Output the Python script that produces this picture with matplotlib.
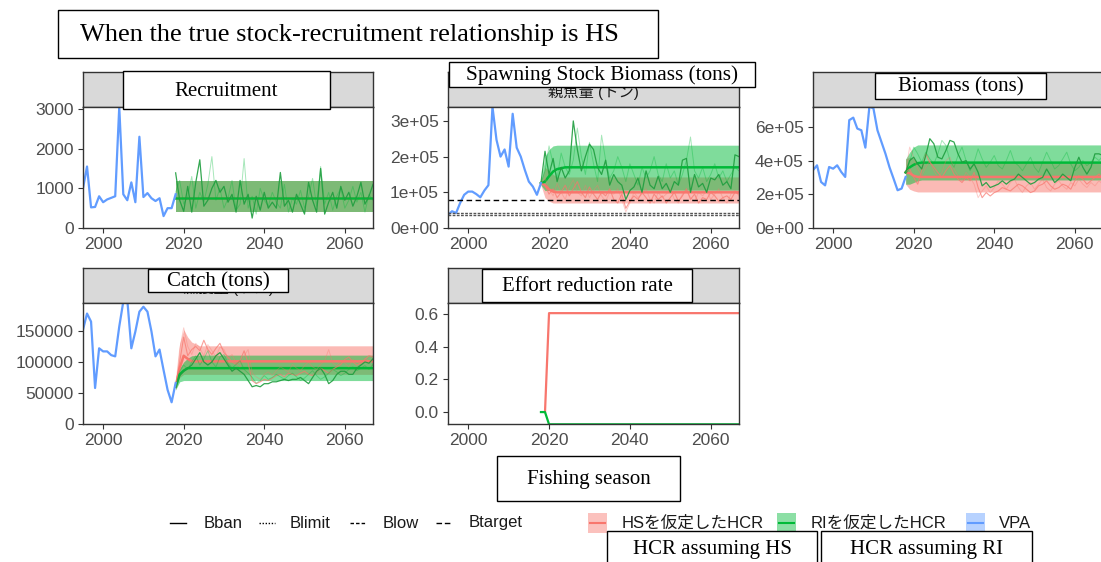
import matplotlib
matplotlib.use("Agg")
import matplotlib.pyplot as plt
import numpy as np
from matplotlib.patches import Rectangle

# ---------------------------------------------------------------------------
# data
# ---------------------------------------------------------------------------
vpa_years = list(range(1995, 2019))
proj_years = list(range(2018, 2068))

# VPA estimates
vpa_rec = [1000, 1550, 520, 530, 800, 650, 720, 760, 800, 3050, 850, 700,
           1150, 650, 2300, 780, 880, 750, 680, 750, 300, 500, 500, 850]
vpa_ssb_1e5 = [0.37, 0.47, 0.42, 0.70, 0.93, 1.02, 1.02, 0.95, 0.86, 1.05,
               1.20, 3.40, 2.47, 2.00, 2.20, 1.72, 3.20, 2.25, 2.00, 1.63,
               1.30, 1.16, 0.93, 1.26]
vpa_bio_1e5 = [3.43, 3.72, 2.73, 2.53, 3.62, 3.52, 3.72, 3.33, 3.03, 6.40,
               6.55, 5.90, 5.80, 4.77, 7.20, 7.10, 5.80, 5.10, 4.40, 3.60,
               2.93, 2.24, 2.34, 3.03]
vpa_catch_k = [152, 178, 165, 58, 122, 117, 117, 111, 109, 157, 197, 200,
               122, 149, 181, 189, 181, 149, 109, 120, 87, 55, 35, 66]

# projection summaries: (years, lower, median, upper)
rec_band_years = [2018, 2067]
rec_lo = [400, 400]
rec_med = [750, 750]
rec_hi = [1180, 1180]

ssb_band_years = [2018, 2019, 2020, 2021, 2022, 2024, 2067]
ssb_ri_lo = [1.20, 1.05, 1.05, 1.06, 1.06, 1.06, 1.06]
ssb_ri_med = [1.26, 1.30, 1.45, 1.58, 1.65, 1.70, 1.70]
ssb_ri_hi = [1.30, 2.00, 2.20, 2.30, 2.32, 2.32, 2.32]
ssb_hs_lo = [1.20, 0.85, 0.75, 0.70, 0.70, 0.70, 0.70]
ssb_hs_med = [1.26, 1.20, 1.08, 1.02, 1.00, 1.00, 1.00]
ssb_hs_hi = [1.30, 1.70, 1.60, 1.50, 1.43, 1.43, 1.43]

bio_band_years = [2018, 2019, 2020, 2021, 2022, 2067]
bio_ri_lo = [2.60, 2.60, 2.70, 2.80, 2.85, 2.85]
bio_ri_med = [3.30, 3.60, 3.75, 3.85, 3.88, 3.88]
bio_ri_hi = [4.10, 4.50, 4.80, 4.93, 4.93, 4.93]
bio_hs_lo = [2.60, 2.30, 2.20, 2.14, 2.14, 2.14]
bio_hs_med = [3.30, 3.25, 3.10, 3.03, 3.03, 3.03]
bio_hs_hi = [4.10, 4.20, 4.10, 3.90, 3.86, 3.86]

catch_band_years = [2018, 2019, 2020, 2021, 2022, 2024, 2067]
catch_ri_lo = [55, 68, 70, 70, 70, 70, 70]
catch_ri_med = [60, 80, 86, 90, 90, 90, 90]
catch_ri_hi = [66, 90, 100, 106, 110, 111, 111]
catch_hs_lo = [55, 75, 80, 80, 80, 80, 80]
catch_hs_med = [60, 90, 110, 105, 101, 101, 101]
catch_hs_hi = [66, 130, 152, 140, 132, 126, 126]

effort_hs_years = [2019, 2020, 2067]
effort_hs = [0.0, 0.605, 0.605]
effort_ri_years = [2018, 2019, 2020, 2067]
effort_ri = [0.0, 0.0, -0.075, -0.075]

# single simulation runs, 2018-2067
rec_run_a = [1390, 700, 420, 1050, 400, 1150, 1720, 550, 700, 1000,
             1200, 900, 1050, 650, 850, 400, 1200, 600, 850, 250,
             800, 450, 900, 500, 650, 500, 1400, 550, 700, 400,
             850, 600, 350, 1150, 700, 400, 1500, 350, 650, 900,
             500, 1050, 700, 900, 550, 800, 1150, 600, 800, 1100]
rec_run_b = [900, 1200, 600, 800, 1300, 500, 900, 650, 1100, 1800,
             700, 1000, 500, 750, 1200, 450, 600, 1750, 500, 800,
             350, 1000, 700, 550, 900, 650, 500, 1100, 400, 750,
             600, 950, 500, 800, 1250, 550, 1550, 600, 900, 450,
             800, 1000, 500, 700, 1050, 650, 900, 400, 850, 700]

ssb_ri_run_a = [1.26, 2.15, 1.50, 1.95, 1.30, 1.70, 1.40, 1.60, 3.00, 2.20,
                1.60, 2.00, 2.35, 2.20, 1.70, 1.50, 1.90, 1.20, 1.50, 1.30,
                1.20, 0.80, 1.05, 1.15, 1.40, 1.00, 1.60, 1.20, 1.10, 1.45,
                1.10, 1.25, 1.00, 1.30, 1.20, 1.90, 1.95, 1.00, 1.50, 1.15,
                1.25, 1.00, 1.40, 1.35, 1.50, 1.20, 1.30, 1.10, 2.05, 2.00]
ssb_ri_run_b = [1.26, 1.60, 2.30, 1.80, 1.40, 2.10, 1.70, 1.50, 1.90, 2.80,
                2.00, 1.50, 2.40, 1.80, 1.30, 2.60, 1.90, 1.40, 1.60, 2.00,
                1.70, 1.30, 1.80, 1.50, 1.20, 1.70, 1.40, 1.60, 2.00, 1.50,
                1.30, 1.80, 1.40, 1.60, 1.20, 1.50, 1.90, 2.55, 1.60, 1.40,
                1.70, 1.30, 1.50, 1.80, 1.40, 1.60, 1.30, 1.50, 1.70, 1.60]
ssb_hs_run_a = [1.26, 1.20, 0.95, 1.10, 0.85, 1.00, 1.20, 0.90, 1.10, 1.30,
                1.00, 0.85, 1.15, 0.95, 0.80, 1.00, 0.90, 1.10, 0.80, 0.70,
                0.95, 0.55, 0.75, 0.90, 0.80, 1.00, 0.85, 0.70, 0.95, 0.80,
                0.90, 0.70, 0.85, 1.00, 0.75, 0.90, 1.10, 0.80, 0.95, 0.70,
                0.85, 0.80, 1.00, 0.90, 0.75, 0.85, 0.90, 0.80, 1.00, 0.95]
ssb_hs_run_b = [1.26, 1.40, 1.10, 0.90, 1.25, 1.00, 0.80, 1.15, 1.35, 1.00,
                0.90, 1.20, 0.85, 1.05, 1.20, 0.90, 0.75, 1.00, 0.95, 1.10,
                0.80, 0.45, 0.70, 1.00, 0.85, 0.95, 1.10, 0.80, 0.70, 1.00,
                0.85, 0.95, 1.10, 0.80, 0.70, 0.95, 1.05, 0.85, 0.75, 1.00,
                0.90, 1.05, 0.80, 0.95, 1.10, 0.85, 0.70, 0.95, 1.05, 0.90]

bio_ri_run_a = [3.3, 4.0, 4.2, 3.8, 3.5, 4.3, 5.3, 5.0, 4.2, 4.1,
                4.6, 5.2, 5.1, 4.4, 3.9, 4.0, 3.5, 3.8, 3.3, 2.5,
                2.7, 2.4, 2.5, 2.6, 2.8, 2.6, 2.8, 2.9, 3.2, 3.0,
                2.8, 2.6, 2.7, 2.9, 3.0, 3.5, 3.1, 2.7, 2.9, 3.2,
                3.0, 2.8, 3.6, 4.2, 3.6, 3.2, 3.6, 4.4, 4.4, 4.3]
bio_ri_run_b = [3.3, 3.9, 4.8, 4.4, 3.9, 4.5, 4.1, 3.8, 4.4, 5.2,
                4.9, 4.0, 3.6, 4.3, 4.8, 4.0, 3.4, 3.9, 4.7, 4.1,
                3.6, 3.9, 4.3, 3.7, 3.5, 4.0, 4.6, 3.9, 3.7, 3.4,
                3.8, 4.2, 3.6, 3.3, 3.9, 4.5, 4.0, 3.5, 3.7, 4.1,
                4.5, 3.8, 3.4, 3.6, 4.0, 3.7, 3.9, 4.2, 4.0, 4.3]
bio_hs_run_a = [3.3, 3.5, 3.0, 2.6, 3.4, 4.4, 3.9, 3.6, 3.3, 3.0,
                3.4, 3.7, 3.2, 2.9, 2.7, 3.0, 2.8, 3.3, 2.4, 1.8,
                2.1, 1.9, 2.1, 2.2, 2.4, 2.3, 2.2, 2.4, 2.6, 2.5,
                2.3, 2.1, 2.2, 2.5, 2.6, 2.8, 2.5, 2.3, 2.4, 2.6,
                2.5, 2.3, 2.8, 3.1, 2.9, 2.6, 2.8, 3.0, 3.2, 3.0]
bio_hs_run_b = [3.3, 4.8, 4.2, 3.5, 3.1, 3.6, 4.0, 3.4, 3.0, 3.3,
                4.0, 4.2, 3.5, 3.1, 2.8, 3.3, 3.0, 2.6, 1.8, 2.2,
                2.5, 2.1, 2.4, 2.8, 2.6, 2.3, 2.7, 2.9, 2.4, 2.1,
                2.5, 2.7, 2.3, 2.6, 2.9, 2.4, 2.2, 2.6, 2.8, 2.5,
                2.3, 2.7, 2.5, 2.9, 2.6, 2.4, 2.7, 2.5, 2.8, 2.6]

catch_ri_run_a = [60, 78, 85, 90, 95, 105, 115, 100, 95, 100,
                  110, 115, 105, 95, 85, 90, 85, 80, 70, 60,
                  62, 60, 65, 65, 68, 68, 70, 72, 70, 72,
                  72, 75, 70, 65, 75, 85, 90, 80, 65, 70,
                  80, 85, 85, 80, 80, 90, 95, 100, 98, 105]
catch_ri_run_b = [60, 85, 95, 88, 100, 110, 95, 105, 118, 100,
                  92, 108, 112, 98, 90, 96, 102, 88, 82, 75,
                  66, 70, 78, 72, 75, 80, 76, 72, 78, 82,
                  76, 70, 74, 80, 86, 78, 72, 76, 82, 88,
                  84, 78, 82, 88, 92, 86, 90, 94, 88, 96]
catch_hs_run_a = [60, 100, 140, 110, 120, 125, 118, 135, 120, 112,
                  122, 130, 115, 108, 100, 96, 102, 118, 98, 70,
                  65, 68, 72, 70, 74, 78, 80, 76, 82, 80,
                  78, 82, 85, 80, 78, 84, 90, 86, 82, 88,
                  92, 96, 104, 108, 100, 95, 98, 104, 110, 108]
catch_hs_run_b = [60, 120, 155, 125, 112, 130, 122, 110, 128, 118,
                  108, 124, 120, 105, 112, 98, 92, 110, 120, 82,
                  76, 72, 80, 84, 78, 86, 92, 88, 84, 96,
                  90, 86, 94, 100, 92, 88, 96, 102, 120, 98,
                  94, 102, 98, 92, 104, 100, 96, 106, 102, 100]

# reference points for spawning stock biomass (1e5 t)
ref_points = {"Bban": 0.36, "Blimit": 0.42, "Btarget": 0.79}

# ---------------------------------------------------------------------------
# style
# ---------------------------------------------------------------------------
W, H = 1101, 562
RED, GREEN, BLUE = "#F8766D", "#00BA38", "#619CFF"
DARK_GREEN = "#1E9E3E"
SANS = ["Liberation Sans", "DejaVu Sans"]
JP = ["Liberation Sans", "Noto Sans CJK JP", "DejaVu Sans"]
SERIF = ["Liberation Serif", "DejaVu Serif"]

COLS = [(83, 373), (448, 739), (813, 1103)]
ROWS = [(72, 107, 228), (268, 303, 424)]

fig = plt.figure(figsize=(W / 100, H / 100), dpi=100)


def px_axes(l, t, r, b):
    return fig.add_axes([l / W, 1 - b / H, (r - l) / W, (b - t) / H])


def panel(col, row, strip, ylim, yticks, ylabels):
    l, r = COLS[col]
    st, sb, pb = ROWS[row]
    sax = px_axes(l, st, r, sb)
    sax.set_facecolor("#D9D9D9")
    sax.set_xticks([])
    sax.set_yticks([])
    for s in sax.spines.values():
        s.set_color("#333333")
        s.set_linewidth(1.0)
    if strip:
        sax.text(0.5, 0.42, strip, ha="center", va="center", fontsize=11,
                 color="#1A1A1A", family=JP, transform=sax.transAxes)

    ax = px_axes(l, sb, r, pb)
    ax.set_xlim(1995, 2067)
    ax.set_ylim(*ylim)
    ax.set_xticks([2000, 2020, 2040, 2060])
    ax.set_yticks(yticks)
    ax.set_yticklabels(ylabels)
    ax.tick_params(length=3.5, width=0.8, color="#333333", labelsize=12.5,
                   labelcolor="#4D4D4D", pad=3)
    for lab in ax.get_xticklabels() + ax.get_yticklabels():
        lab.set_family(SANS)
    for s in ax.spines.values():
        s.set_color("#333333")
        s.set_linewidth(1.0)
    return ax


def bands(ax, yrs, lo_ri, med_ri, hi_ri, lo_hs, med_hs, hi_hs, scale=1.0):
    y = np.asarray(yrs)
    ax.fill_between(y, np.asarray(lo_hs) * scale, np.asarray(hi_hs) * scale,
                    color=RED, alpha=0.5, lw=0)
    ax.fill_between(y, np.asarray(lo_ri) * scale, np.asarray(hi_ri) * scale,
                    color=GREEN, alpha=0.5, lw=0)
    ax.plot(y, np.asarray(med_hs) * scale, color=RED, lw=1.8)
    ax.plot(y, np.asarray(med_ri) * scale, color=GREEN, lw=1.8)


def runs(ax, hs_a, hs_b, ri_a, ri_b, scale=1.0):
    y = np.asarray(proj_years)
    if hs_b is not None:
        ax.plot(y, np.asarray(hs_b) * scale, color=RED, lw=0.7, alpha=0.35)
    if hs_a is not None:
        ax.plot(y, np.asarray(hs_a) * scale, color=RED, lw=0.8, alpha=0.7)
    ax.plot(y, np.asarray(ri_b) * scale, color=GREEN, lw=0.7, alpha=0.35)
    ax.plot(y, np.asarray(ri_a) * scale, color=DARK_GREEN, lw=0.9, alpha=0.9)


# --- recruitment --------------------------------------------------------
ax = panel(0, 0, None, (0, 3050), [0, 1000, 2000, 3000],
           ["0", "1000", "2000", "3000"])
bands(ax, rec_band_years, rec_lo, rec_med, rec_hi, rec_lo, rec_med, rec_hi)
runs(ax, None, None, rec_run_a, rec_run_b)
ax.plot(vpa_years, vpa_rec, color=BLUE, lw=1.6)

# --- spawning stock biomass ---------------------------------------------
ax = panel(1, 0, "親魚量 (トン)", (0, 3.39e5), [0, 1e5, 2e5, 3e5],
           ["0e+00", "1e+05", "2e+05", "3e+05"])
bands(ax, ssb_band_years, ssb_ri_lo, ssb_ri_med, ssb_ri_hi,
      ssb_hs_lo, ssb_hs_med, ssb_hs_hi, scale=1e5)
runs(ax, ssb_hs_run_a, ssb_hs_run_b, ssb_ri_run_a, ssb_ri_run_b, scale=1e5)
ax.plot(vpa_years, np.asarray(vpa_ssb_1e5) * 1e5, color=BLUE, lw=1.6)
ax.axhline(ref_points["Btarget"] * 1e5, color="black", lw=1.0,
           ls=(0, (4, 2.5)))
ax.axhline(ref_points["Blimit"] * 1e5, color="#555555", lw=1.0,
           ls=(0, (2, 1)))
ax.axhline(ref_points["Bban"] * 1e5, color="#555555", lw=1.0,
           ls=(0, (2, 1)))

# --- biomass ------------------------------------------------------------
ax = panel(2, 0, None, (0, 7.18e5), [0, 2e5, 4e5, 6e5],
           ["0e+00", "2e+05", "4e+05", "6e+05"])
bands(ax, bio_band_years, bio_ri_lo, bio_ri_med, bio_ri_hi,
      bio_hs_lo, bio_hs_med, bio_hs_hi, scale=1e5)
runs(ax, bio_hs_run_a, bio_hs_run_b, bio_ri_run_a, bio_ri_run_b, scale=1e5)
ax.plot(vpa_years, np.asarray(vpa_bio_1e5) * 1e5, color=BLUE, lw=1.6)

# --- catch --------------------------------------------------------------
ax = panel(0, 1, "漁獲量 (トン)", (0, 195000),
           [0, 50000, 100000, 150000], ["0", "50000", "100000", "150000"])
bands(ax, catch_band_years, catch_ri_lo, catch_ri_med, catch_ri_hi,
      catch_hs_lo, catch_hs_med, catch_hs_hi, scale=1000)
runs(ax, catch_hs_run_a, catch_hs_run_b, catch_ri_run_a, catch_ri_run_b,
     scale=1000)
ax.plot(vpa_years, np.asarray(vpa_catch_k) * 1000, color=BLUE, lw=1.6)

# --- effort reduction ---------------------------------------------------
ax = panel(1, 1, None, (-0.073, 0.667), [0.0, 0.2, 0.4, 0.6],
           ["0.0", "0.2", "0.4", "0.6"])
ax.plot(effort_hs_years, effort_hs, color=RED, lw=1.6)
ax.plot(effort_ri_years, effort_ri, color=GREEN, lw=1.6)

# ---------------------------------------------------------------------------
# legend and labels, drawn in pixel coordinates
# ---------------------------------------------------------------------------
ov = fig.add_axes([0, 0, 1, 1])
ov.set_xlim(0, W)
ov.set_ylim(H, 0)
ov.axis("off")

ly = 523
line_keys = [("Bban", "-", 170, 204), ("Blimit", (0, (1, 1.2)), 259, 290),
             ("Blow", (0, (2.5, 1.5)), 350, 383), ("Btarget", (0, (4, 2)), 436, 469)]
for name, style, kx, tx in line_keys:
    ov.plot([kx, kx + 16], [ly, ly], color="black", lw=1.0, ls=style)
    ov.text(tx, ly, name, va="center", ha="left", fontsize=12,
            color="#1A1A1A", family=SANS)

fill_keys = [("HSを仮定したHCR", RED, 588, 622), ("RIを仮定したHCR", GREEN, 777, 811),
             ("VPA", BLUE, 966, 999)]
for name, c, kx, tx in fill_keys:
    ov.add_patch(Rectangle((kx, ly - 10), 19, 20, fc=c, alpha=0.45, lw=0))
    ov.plot([kx + 2, kx + 17], [ly, ly], color=c, lw=1.5)
    ov.text(tx, ly, name, va="center", ha="left", fontsize=12,
            color="#1A1A1A", family=JP)

boxes = [
    ("When the true stock-recruitment relationship is HS", (58, 10, 658, 58), 19, "left", 80),
    ("Recruitment", (123, 71, 330, 109), 15, "center", None),
    ("Spawning Stock Biomass (tons)", (449, 62, 755, 87), 15.3, "center", None),
    ("Biomass (tons)", (875, 73, 1046, 99), 15, "center", None),
    ("Catch (tons)", (148, 269, 288, 292), 15, "center", None),
    ("Effort reduction rate", (482, 269, 692, 302), 15, "center", None),
    ("Fishing season", (497, 456, 680, 501), 15, "center", None),
    ("HCR assuming HS", (607, 531, 817, 566), 15, "center", None),
    ("HCR assuming RI", (821, 531, 1032, 566), 15, "center", None),
]
for text, (l, t, r, b), size, align, tx in boxes:
    ov.add_patch(Rectangle((l, t), r - l, b - t, fc="white", ec="black",
                           lw=1.0, zorder=5))
    x = tx if tx is not None else (l + r) / 2
    ov.text(x, (t + b) / 2 + 1, text, ha=align, va="center", fontsize=size,
            family=SERIF, color="black", zorder=6)

fig.savefig("out.png", dpi=100)
